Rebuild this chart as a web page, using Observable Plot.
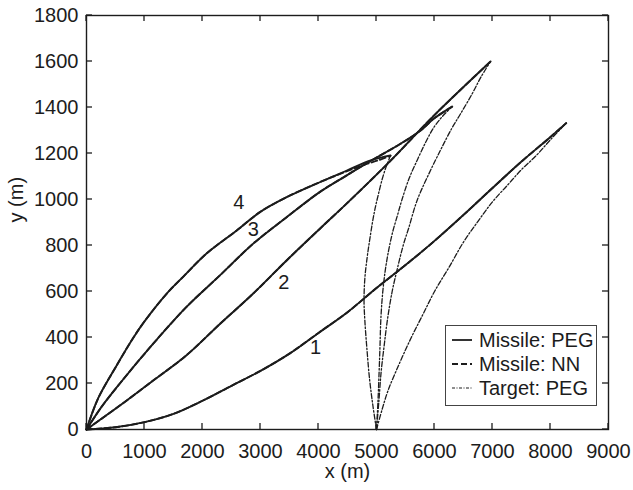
<!DOCTYPE html>
<html><head><meta charset="utf-8">
<script src="https://cdn.jsdelivr.net/npm/d3@7"></script>
<script src="https://cdn.jsdelivr.net/npm/@observablehq/plot@0.6"></script>
<style>
body{margin:0;background:#fff}
#chart svg{font-family:"Liberation Sans",Arial,Helvetica,sans-serif}
</style>
</head><body><div id="chart"></div>
<script>
// ---- tick values ----
const xTicks = [0,1000,2000,3000,4000,5000,6000,7000,8000,9000];
const yTicks = [0,200,400,600,800,1000,1200,1400,1600,1800];

// ---- Missile trajectories, PEG (solid) ----
const missilePEG1 = [[0,0],[500,10],[1000,32],[1500,68],[2000,125],[2500,190],[3000,255],[3500,330],[4000,420],[4500,510],[5000,615],[5500,715],[6000,820],[6500,933],[7000,1050],[7500,1165],[8000,1272],[8270,1332]];
const missilePEG2 = [[0,0],[575,104],[1150,213],[1720,322],[2300,459],[2870,590],[3450,735],[4020,872],[4480,981],[5240,1168],[5990,1365],[6966,1600]];
const missilePEG3 = [[0,0],[250,95],[575,200],[1150,373],[1720,532],[2300,670],[2870,807],[3450,923],[4020,1032],[4480,1104],[4900,1168],[5400,1240],[5760,1300],[5990,1352],[6305,1404]];
const missilePEG4 = [[0,0],[200,135],[500,270],[810,400],[1000,470],[1380,590],[1670,665],[2070,765],[2590,865],[2990,945],[3450,1010],[4020,1075],[4480,1125],[4900,1170],[5241,1192]];

// ---- Missile trajectories, NN (dashed) ----
const missileNN1 = [[0,0],[500,10],[1000,32],[1500,68],[2000,125],[2500,190],[3000,255],[3500,330],[4000,420],[4500,510],[5000,615],[5500,715],[6000,820],[6500,933],[7000,1050],[7500,1165],[8000,1272],[8270,1332]];
const missileNN2 = [[0,0],[575,104],[1150,213],[1720,322],[2300,459],[2870,590],[3450,735],[4020,872],[4480,981],[5240,1168],[5990,1365],[6966,1600]];
const missileNN3 = [[0,0],[250,95],[575,200],[1150,373],[1720,532],[2300,670],[2870,807],[3450,923],[4020,1032],[4480,1104],[4900,1168],[5400,1240],[5760,1300],[5990,1352],[6305,1404]];
const missileNN4 = [[0,0],[200,135],[500,270],[810,400],[1000,470],[1380,590],[1670,665],[2070,765],[2590,865],[2990,945],[3450,1010],[4020,1075],[4480,1122],[4800,1152],[5050,1172],[5241,1190]];

// ---- Target trajectories, PEG (dash-dot) ----
const targetPEG1 = [[5000,0],[5100,90],[5200,170],[5400,290],[5600,400],[5800,500],[6000,600],[6250,705],[6500,815],[6750,905],[7000,990],[7250,1060],[7500,1130],[7750,1190],[8000,1260],[8270,1332]];
const targetPEG2 = [[5000,0],[5040,120],[5080,250],[5130,360],[5190,480],[5270,600],[5360,700],[5460,800],[5560,880],[5700,996],[5900,1110],[6100,1213],[6300,1310],[6450,1373],[6650,1460],[6800,1532],[6966,1600]];
const targetPEG3 = [[5000,0],[5025,120],[5045,250],[5060,360],[5075,480],[5105,590],[5150,690],[5210,780],[5280,860],[5360,930],[5440,1000],[5560,1090],[5700,1170],[5850,1250],[5990,1314],[6150,1365],[6305,1404]];
const targetPEG4 = [[5000,0],[4940,100],[4880,220],[4835,350],[4800,470],[4785,560],[4800,660],[4840,750],[4880,820],[4930,900],[4975,960],[5030,1020],[5100,1090],[5170,1145],[5241,1191]];

// ---- curve number labels ----
const curveLabels = ["1","2","3","4"];
const curveLabelX = [3950,3400,2874,2626];
const curveLabelY = [355,637,868,988];

const legendNames = ["Missile: PEG","Missile: NN","Target: PEG"];

const rows = (pts, id) => pts.map(([x,y]) => ({x, y, id}));
const pegData = [missilePEG1,missilePEG2,missilePEG3,missilePEG4].flatMap((p,i)=>rows(p,"peg"+i));
const nnData = [missileNN1,missileNN2,missileNN3,missileNN4].flatMap((p,i)=>rows(p,"nn"+i));
const tgtData = [targetPEG1,targetPEG2,targetPEG3,targetPEG4].flatMap((p,i)=>rows(p,"t"+i));

const W = 633, H = 490, mL = 86, mR = 25, mT = 15, mB = 61;
const ink = "#1c1c1c";
const tickLen = 6;
const fs = 20;
const dashDot = "5,2,1.5,2";

const plot = Plot.plot({
  width: W, height: H,
  marginLeft: mL, marginRight: mR, marginTop: mT, marginBottom: mB,
  style: {fontFamily: '"Liberation Sans",Arial,Helvetica,sans-serif', fontSize: fs + "px", color: ink, background: "#fff"},
  x: {domain: [0, 9000]},
  y: {domain: [0, 1800]},
  marks: [
    Plot.axisX(xTicks, {tickSize: 0, tickPadding: 14, label: null, tickFormat: d => String(d), fontSize: fs, fill: ink}),
    Plot.axisY(yTicks, {tickSize: 0, tickPadding: 8, label: null, tickFormat: d => String(d), fontSize: fs, fill: ink}),
    Plot.line(tgtData, {x: "x", y: "y", z: "id", curve: "catmull-rom", stroke: ink, strokeWidth: 1.3, strokeDasharray: dashDot}),
    Plot.line(nnData, {x: "x", y: "y", z: "id", curve: "catmull-rom", stroke: ink, strokeWidth: 1.9, strokeDasharray: "6,3"}),
    Plot.line(pegData, {x: "x", y: "y", z: "id", curve: "catmull-rom", stroke: ink, strokeWidth: 1.9}),
    Plot.frame({stroke: ink, strokeWidth: 1.4}),
    Plot.text(curveLabels, {x: (d,i) => curveLabelX[i], y: (d,i) => curveLabelY[i], text: d => d, fontSize: fs, fill: ink}),
    Plot.text(["x (m)"], {frameAnchor: "bottom", text: d => d, dy: 48, fontSize: fs, fill: ink}),
    Plot.text(["y (m)"], {frameAnchor: "left", text: d => d, dx: -70, rotate: -90, fontSize: fs, fill: ink})
  ]
});

const svg = d3.select(plot);
const sx = plot.scale("x"), sy = plot.scale("y");
const xr = sx.range, yr = sy.range;
const xa = xr[0], xb = xr[1], ya = yr[0], yb = yr[1]; // ya bottom, yb top

// ---- inward tick marks on all four sides (MATLAB box style) ----
const tg = svg.append("g");
function tick(x1, y1, x2, y2) {
  tg.append("line").attr("x1", x1).attr("y1", y1).attr("x2", x2).attr("y2", y2)
    .attr("stroke", ink).attr("stroke-width", 1.3);
}
xTicks.forEach(v => {
  const px = sx.apply(v);
  tick(px, ya, px, ya - tickLen);
  tick(px, yb, px, yb + tickLen);
});
yTicks.forEach(v => {
  const py = sy.apply(v);
  tick(xa, py, xa + tickLen, py);
  tick(xb, py, xb - tickLen, py);
});

// ---- legend box ----
const lg = svg.append("g");
const bx = 445.5, by = 325.5, bw = 151, bh = 80;
lg.append("rect").attr("x", bx).attr("y", by).attr("width", bw).attr("height", bh)
  .attr("fill", "#fff").attr("stroke", "#444").attr("stroke-width", 1);
const rowY = [340, 364, 388];
const styles = [
  {dash: null, w: 1.8},
  {dash: "6,3", w: 1.8},
  {dash: "3,1.5,1,1.5", w: 1.2}
];
legendNames.forEach((name, i) => {
  lg.append("line").attr("x1", 452).attr("x2", 472).attr("y1", rowY[i]).attr("y2", rowY[i])
    .attr("stroke", ink).attr("stroke-width", styles[i].w)
    .attr("stroke-dasharray", styles[i].dash);
  lg.append("text").attr("x", 479).attr("y", rowY[i]).attr("dy", "0.35em")
    .attr("text-anchor", "start")
    .attr("font-size", fs).attr("fill", ink).text(name);
});

document.getElementById("chart").appendChild(plot);
</script>
</body></html>
